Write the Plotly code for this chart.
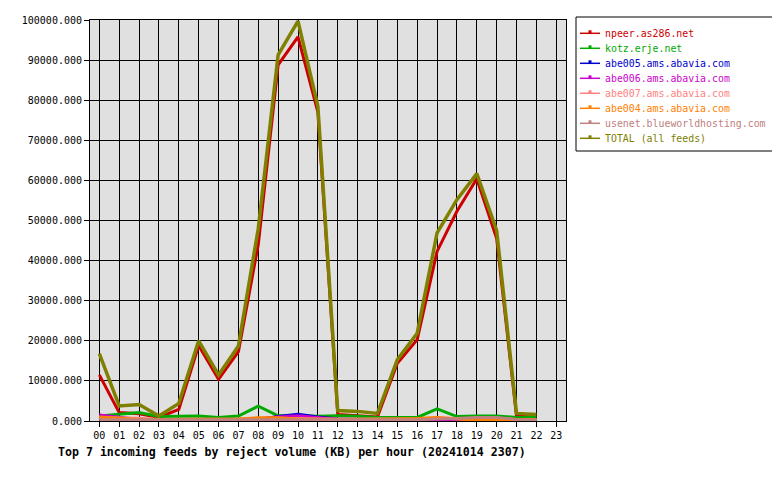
import plotly.graph_objects as go

hours = list(range(23))
hour_labels = [f"{h:02d}" for h in range(24)]

series_names = [
    "npeer.as286.net",
    "kotz.erje.net",
    "abe005.ams.abavia.com",
    "abe006.ams.abavia.com",
    "abe007.ams.abavia.com",
    "abe004.ams.abavia.com",
    "usenet.blueworldhosting.com",
    "TOTAL (all feeds)",
]
series_colors = ["#cc0000", "#00aa00", "#0000cc", "#cc00cc", "#ff8080", "#ff8000", "#c08080", "#808000"]

npeer = [11500, 2100, 1800, 900, 2900, 18800, 10400, 17300, 44000, 88800, 95800, 77000,
         1600, 1300, 1000, 14400, 20300, 42300, 52300, 60400, 45500, 1200, 1000]
kotz = [1250, 1600, 2100, 1100, 1250, 1250, 900, 1250, 3700, 1300, 1300, 1200,
        1300, 1200, 900, 900, 900, 3000, 1100, 1250, 1250, 900, 900]
abe005 = [400, 300, 300, 300, 300, 300, 300, 300, 400, 1100, 1650, 1000,
          500, 400, 300, 300, 300, 300, 300, 300, 300, 300, 300]
abe006 = [1500, 900, 400, 300, 300, 300, 300, 300, 500, 1000, 1300, 900,
          400, 300, 300, 200, 200, 200, 200, 100, 100, 200, 200]
abe007 = [800, 700, 700, 400, 400, 400, 400, 500, 700, 700, 600, 500,
          500, 500, 400, 400, 500, 800, 600, 700, 700, 400, 400]
abe004 = [1000, 700, 400, 400, 400, 500, 500, 500, 800, 800, 500, 400,
          400, 400, 400, 500, 600, 900, 500, 200, 300, 400, 400]
usenet = [300, 300, 250, 250, 250, 250, 250, 250, 300, 300, 300, 300,
          300, 300, 300, 300, 300, 500, 600, 900, 900, 400, 300]
total = [16800, 3750, 4100, 1250, 4400, 20000, 11500, 18700, 48000, 91300, 99700, 78500,
         2600, 2400, 1900, 15300, 21900, 46900, 55200, 61700, 47500, 1900, 1600]

all_series = [npeer, kotz, abe005, abe006, abe007, abe004, usenet, total]

title_text = "Top 7 incoming feeds by reject volume (KB) per hour (20241014 2307)"
y_ticks = list(range(0, 100001, 10000))

# plot area in screen pixels; page body has an 8px margin
OFF = 8
PL, PR, PT, PB = 90, 566, 20, 421
W, H = 780 - OFF, 480 - OFF

def px(x):
    return (x - PL) / (PR - PL)

def py(y):
    return (PB - y) / (PB - PT)

fig = go.Figure()
for name, color, vals in zip(series_names, series_colors, all_series):
    fig.add_trace(go.Scatter(
        x=hours, y=vals, mode="lines", name=name,
        line=dict(color=color, width=3.5 if name.startswith("TOTAL") else 3),
        showlegend=False, hoverinfo="x+y+name",
    ))

mono = "DejaVu Sans Mono"
shapes = []
annotations = []
# legend box
shapes.append(dict(type="rect", xref="paper", yref="paper",
                   x0=px(576), x1=px(773), y0=py(151), y1=py(17),
                   line=dict(color="black", width=1), fillcolor="white", layer="above"))
for i, (name, color) in enumerate(zip(series_names, series_colors)):
    yy = 33.3 + 15 * i
    shapes.append(dict(type="line", xref="paper", yref="paper",
                       x0=px(580), x1=px(600), y0=py(yy), y1=py(yy),
                       line=dict(color=color, width=1.5), layer="above"))
    shapes.append(dict(type="line", xref="paper", yref="paper",
                       x0=px(590), x1=px(590), y0=py(yy), y1=py(yy - 3),
                       line=dict(color=color, width=3), layer="above"))
    annotations.append(dict(xref="paper", yref="paper", x=px(603), y=py(yy),
                            xanchor="left", yanchor="middle", showarrow=False,
                            text=name, font=dict(family=mono, size=9.9, color=color)))

annotations.append(dict(xref="paper", yref="paper", x=px(292), y=py(452),
                        xanchor="center", yanchor="middle", showarrow=False,
                        text="<b>" + title_text + "</b>",
                        font=dict(family=mono, size=11.6, color="black")))

fig.update_layout(
    width=W, height=H,
    margin=dict(l=PL - OFF, r=W - (PR - OFF), t=PT - OFF, b=H - (PB - OFF), pad=0, autoexpand=False),
    paper_bgcolor="white", plot_bgcolor="#e0e0e0",
    showlegend=False,
    shapes=shapes, annotations=annotations,
    font=dict(family=mono, size=10, color="black"),
)
fig.update_xaxes(
    range=[-0.47, 23.49], tickmode="array", tickvals=list(range(24)), ticktext=hour_labels,
    showgrid=True, gridcolor="black", gridwidth=1, zeroline=False,
    showline=True, mirror=True, linecolor="black", linewidth=1,
    ticks="outside", ticklen=5, tickcolor="black", tickwidth=1,
    tickfont=dict(family=mono, size=10, color="black"), fixedrange=True,
)
fig.update_yaxes(
    range=[0, 100000], tickmode="array", tickvals=y_ticks, tickformat=".3f",
    showgrid=True, gridcolor="black", gridwidth=1, zeroline=False,
    showline=True, mirror=True, linecolor="black", linewidth=1,
    ticks="outside", ticklen=5, tickcolor="black", tickwidth=1,
    tickfont=dict(family=mono, size=10, color="black"), fixedrange=True,
)

fig.write_html("out.html")
